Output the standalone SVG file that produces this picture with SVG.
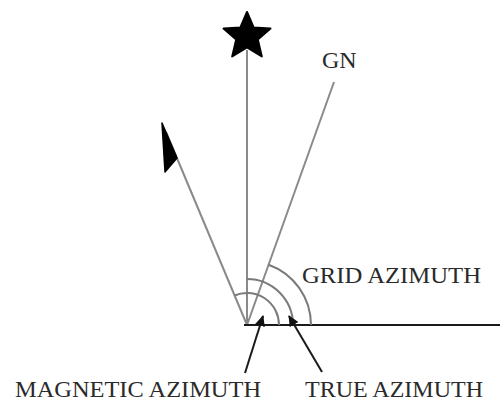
<svg xmlns="http://www.w3.org/2000/svg" width="500" height="403" viewBox="0 0 500 403">
<style>
.ray{stroke:#8a8a8a;stroke-width:2;fill:none}
.arc{stroke:#7a7a7a;stroke-width:2;fill:none}
.base{stroke:#1a1a1a;stroke-width:2;fill:none}
.ptr{stroke:#1a1a1a;stroke-width:2;fill:none}
.lbl{font-family:"Liberation Serif","Times New Roman",serif;font-size:24px;fill:#2a2a2a}
</style>
<defs>
<marker id="ah" markerUnits="userSpaceOnUse" markerWidth="12" markerHeight="10" refX="10" refY="5" orient="auto">
<path d="M0,0 L11,5 L0,10 Z" fill="#111"/>
</marker>
</defs>
<rect width="500" height="403" fill="#fff"/>
<g id="connectors">
<line class="ray" x1="247" y1="325" x2="247" y2="50"/>
<line class="ray" x1="247" y1="325" x2="334" y2="82"/>
<line class="ray" x1="247" y1="325" x2="166" y2="132" stroke="#6a6a6a"/>
<line class="base" x1="244" y1="325" x2="500" y2="325"/>
<path class="arc" d="M234.5,295.5 A32,32 0 0 1 279,325"/>
<path class="arc" d="M247,279 A46,46 0 0 1 293,325"/>
<path class="arc" d="M268.6,264.7 A64,64 0 0 1 311,325"/>
<line class="ptr" x1="245" y1="373" x2="263" y2="316" marker-end="url(#ah)"/>
<line class="ptr" x1="322" y1="372" x2="289" y2="316" marker-end="url(#ah)"/>
</g>
<g id="star">
<path d="M247,12 L253.6,27.5 L270.5,28.6 L257.8,39.6 L261.8,56.5 L247,47.5 L232.2,56.5 L236.2,39.6 L223.5,28.6 L240.4,27.5 Z" fill="#000" stroke="#000" stroke-width="2" stroke-linejoin="round"/>
</g>
<g id="magnetic-arrow">
<path d="M162,123 L165,172 L177,158 Z" fill="#000" stroke="#000" stroke-width="1.5" stroke-linejoin="round"/>
</g>
<g id="gn"><text class="lbl" x="322" y="68" font-size="22">GN</text></g>
<g id="grid-azimuth"><text class="lbl" x="302" y="283" textLength="179" lengthAdjust="spacingAndGlyphs">GRID AZIMUTH</text></g>
<g id="magnetic-azimuth"><text class="lbl" x="15" y="397" textLength="246" lengthAdjust="spacingAndGlyphs">MAGNETIC AZIMUTH</text></g>
<g id="true-azimuth"><text class="lbl" x="305" y="397">TRUE AZIMUTH</text></g>
</svg>
